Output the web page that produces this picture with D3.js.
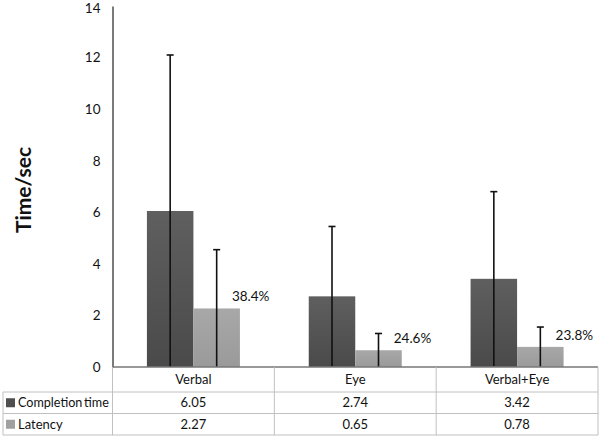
<!DOCTYPE html>
<html><head><meta charset="utf-8">
<script src="https://cdn.jsdelivr.net/npm/d3@7"></script>
<style>body{margin:0;background:#fff}svg{display:block;font-family:Lato,"Open Sans",sans-serif}</style>
</head><body><svg id="c" width="600" height="437"></svg>
<script>
const categories = ["Verbal", "Eye", "Verbal+Eye"];
const seriesNames = ["Completion time", "Latency"];
const completion = [6.05, 2.74, 3.42];
const latency = [2.27, 0.65, 0.78];
const completionErr = [6.05, 2.71, 3.38];
const latencyErr = [2.28, 0.65, 0.77];
const pctLabels = ["38.4%", "24.6%", "23.8%"];
const yTicks = [0, 2, 4, 6, 8, 10, 12, 14];

(function () {
const svg = d3.select("#c");
const mLeft = 112.5, mRight = 598, mTop = 6, mBase = 367;
const y = d3.scaleLinear().domain([0, 14]).range([mBase, mTop]);
const x0 = d3.scaleBand().domain(categories).range([mLeft, mRight]).padding(0);
const x1 = d3.scaleBand().domain(seriesNames).range([0, x0.bandwidth()]).paddingInner(0).paddingOuter(0.74);
const colors = {"Completion time": "url(#gDark)", "Latency": "url(#gLight)"};
const legendColors = {"Completion time": "#4f4f4f", "Latency": "#a0a0a0"};

const defs = svg.append("defs");
function grad(id, c1, c2) {
  const g = defs.append("linearGradient").attr("id", id).attr("x1", 0).attr("y1", 0).attr("x2", 0).attr("y2", 1);
  g.append("stop").attr("offset", "0%").attr("stop-color", c1);
  g.append("stop").attr("offset", "100%").attr("stop-color", c2);
}
grad("gDark", "#5f5f5f", "#4a4a4a");
grad("gLight", "#a8a8a8", "#9a9a9a");

const data = categories.map((c, i) => ({
  cat: c,
  vals: [
    {s: seriesNames[0], v: completion[i], e: completionErr[i]},
    {s: seriesNames[1], v: latency[i], e: latencyErr[i]}
  ]
}));

// Y axis
const yAxis = d3.axisLeft(y).tickValues(yTicks).tickSize(0).tickPadding(12).tickFormat(d3.format("d"));
const ya = svg.append("g").attr("transform", `translate(${mLeft},0)`).call(yAxis);
ya.select(".domain").attr("stroke", "#333").attr("stroke-width", 1.3);
ya.selectAll("text").attr("font-size", 13.5).attr("fill", "#111").attr("font-family", "Lato, sans-serif");
ya.selectAll(".tick").filter(d => d === 14).select("text").attr("dy", "0.5em");

svg.append("text").attr("transform", "translate(31,190) rotate(-90)")
  .attr("text-anchor", "middle").attr("font-size", 21).attr("font-weight", "bold")
  .attr("fill", "#111").text("Time/sec");

// bars
const groups = svg.selectAll(".grp").data(data).join("g")
  .attr("transform", d => `translate(${x0(d.cat)},0)`);
groups.selectAll("rect").data(d => d.vals).join("rect")
  .attr("x", d => x1(d.s)).attr("width", x1.bandwidth())
  .attr("y", d => y(d.v)).attr("height", d => y(0) - y(d.v))
  .attr("fill", d => colors[d.s]);

// error bars
groups.selectAll(".err").data(d => d.vals).join("g").each(function(d) {
  const g = d3.select(this);
  const cx = x1(d.s) + x1.bandwidth() / 2;
  const yt = y(d.v + d.e), yb = y(Math.max(0, d.v - d.e));
  g.append("line").attr("x1", cx).attr("x2", cx).attr("y1", yt).attr("y2", yb)
    .attr("stroke", "#111").attr("stroke-width", 1.6);
  g.append("line").attr("x1", cx - 3.5).attr("x2", cx + 3.5).attr("y1", yt).attr("y2", yt)
    .attr("stroke", "#111").attr("stroke-width", 1.6);
});

// percentage labels
groups.append("text")
  .attr("x", (d) => x1(seriesNames[1]) + x1.bandwidth() - 8)
  .attr("y", (d) => y(d.vals[1].v) - 7)
  .attr("font-size", 13.5).attr("fill", "#111")
  .text((d, i) => pctLabels[i]);

// baseline
svg.append("line").attr("x1", mLeft).attr("x2", mRight).attr("y1", mBase).attr("y2", mBase)
  .attr("stroke", "#777").attr("stroke-width", 1.3);

// table
const rowY = [mBase, 392, 413.5, 435];
const gridC = "#c0c0c0";
const tbl = svg.append("g");
[1, 2, 3].forEach(k => tbl.append("line").attr("x1", 3).attr("x2", mRight).attr("y1", rowY[k]).attr("y2", rowY[k]).attr("stroke", gridC));
tbl.append("line").attr("x1", 3).attr("x2", 3).attr("y1", rowY[1]).attr("y2", rowY[3]).attr("stroke", gridC);
const vx = categories.map(c => x0(c)).concat([mRight]);
vx.forEach(xx => tbl.append("line").attr("x1", xx).attr("x2", xx).attr("y1", rowY[0]).attr("y2", rowY[3]).attr("stroke", gridC));

categories.forEach(c => {
  tbl.append("text").attr("x", x0(c) + x0.bandwidth() / 2).attr("y", (rowY[0] + rowY[1]) / 2)
    .attr("dy", "0.35em").attr("text-anchor", "middle").attr("font-size", 13).attr("fill", "#111").text(c);
});
const rows = [completion, latency];
seriesNames.forEach((s, r) => {
  const cy = (rowY[r + 1] + rowY[r + 2]) / 2;
  tbl.append("rect").attr("x", 6).attr("y", cy - 4.5).attr("width", 9).attr("height", 9).attr("fill", legendColors[s]);
  const t = tbl.append("text").attr("x", 18).attr("y", cy).attr("dy", "0.35em").attr("font-size", 13).attr("fill", "#111").text(s);
  if (s.length > 10) t.attr("font-size", 12.6).attr("word-spacing", -1.5);
  categories.forEach((c, i) => {
    tbl.append("text").attr("x", x0(c) + x0.bandwidth() / 2).attr("y", cy)
      .attr("dy", "0.35em").attr("text-anchor", "middle").attr("font-size", 13).attr("fill", "#111")
      .text(rows[r][i].toFixed(2));
  });
});
})();
</script></body></html>
